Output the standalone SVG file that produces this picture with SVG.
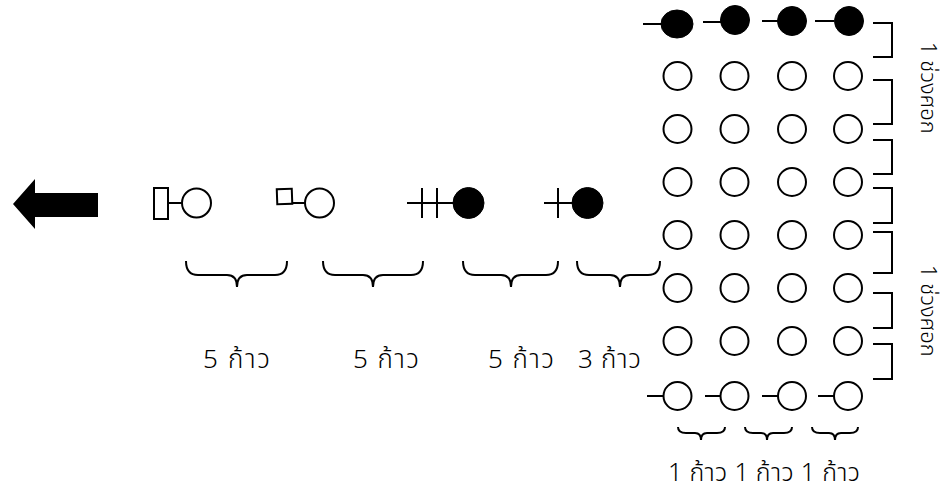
<svg xmlns="http://www.w3.org/2000/svg" width="947" height="494" viewBox="0 0 947 494">
<style>
.s{fill:none;stroke:#000;stroke-width:2}
.o{fill:#fff;stroke:#000;stroke-width:2}
.f{fill:#000;stroke:#000;stroke-width:1}
.t{font-family:"Noto Sans Thai","Noto Sans","DejaVu Sans",sans-serif;font-size:26px;font-weight:300;fill:#000}
.b{font-family:"Noto Sans Thai","Noto Sans","DejaVu Sans",sans-serif;font-size:25px;font-weight:300;fill:#000}
.v{font-family:"Noto Sans Thai","Noto Sans","DejaVu Sans",sans-serif;font-size:22px;font-weight:300;fill:#000}
</style>
<rect width="947" height="494" fill="#fff"/>
<g id="arrow"><polygon points="13,204 35,179 35,193 98,193 98,217 35,217 35,229" fill="#000"/></g>
<g id="p1"><rect x="154" y="188" width="14" height="31" class="o"/><line x1="168" y1="203" x2="182" y2="203" class="s"/><circle cx="196.5" cy="203" r="14.5" class="o"/></g>
<g id="p2"><rect x="277" y="189" width="15" height="15" class="o" transform="rotate(-2 284 196)"/><line x1="292" y1="203" x2="305" y2="203" class="s"/><circle cx="319.5" cy="203" r="14.5" class="o"/></g>
<g id="p3"><line x1="407" y1="203" x2="453" y2="203" class="s"/><line x1="422" y1="188" x2="422" y2="218" class="s"/><line x1="437" y1="188" x2="437" y2="218" class="s"/><circle cx="468.5" cy="203" r="15.5" class="f"/></g>
<g id="p4"><line x1="544" y1="203" x2="573" y2="203" class="s"/><line x1="558" y1="188" x2="558" y2="218" class="s"/><circle cx="587.5" cy="203" r="15.5" class="f"/></g>
<g id="braces">
<path class="s" d="M186,261 Q186,275 198,275 L227,275 Q237,275 237,287 Q237,275 247,275 L275,275 Q287,275 287,261"/>
<path class="s" d="M323,261 Q323,275 335,275 L363,275 Q373,275 373,287 Q373,275 383,275 L411,275 Q423,275 423,261"/>
<path class="s" d="M463,261 Q463,275 475,275 L501,275 Q511,275 511,287 Q511,275 521,275 L546,275 Q558,275 558,261"/>
<path class="s" d="M577,261 Q577,275 589,275 L610,275 Q620,275 620,287 Q620,275 630,275 L648,275 Q660,275 660,261"/>
<path class="s" d="M678,427 Q678,433 686,433 L695,433 Q701,433 701,440 Q701,433 707,433 L717,433 Q725,433 725,427"/>
<path class="s" d="M745,427 Q745,433 753,433 L761,433 Q767,433 767,440 Q767,433 773,433 L784,433 Q792,433 792,427"/>
<path class="s" d="M812,427 Q812,433 820,433 L829,433 Q835,433 835,440 Q835,433 841,433 L850,433 Q858,433 858,427"/>
</g>
<g id="grid">
<line x1="643" y1="24" x2="662" y2="24" class="s"/><ellipse cx="677" cy="24" rx="16" ry="14" class="f"/>
<line x1="703" y1="22" x2="721" y2="22" class="s"/><circle cx="735" cy="20" r="14.5" class="f"/>
<line x1="762" y1="21" x2="778" y2="21" class="s"/><circle cx="792" cy="21" r="14.5" class="f"/>
<line x1="815" y1="21" x2="834" y2="21" class="s"/><circle cx="849" cy="21" r="14.5" class="f"/>
<circle cx="677.5" cy="76" r="14" class="o"/><circle cx="734.5" cy="76" r="14" class="o"/><circle cx="792" cy="76" r="14" class="o"/><circle cx="848" cy="76" r="14" class="o"/>
<circle cx="677.5" cy="129" r="14" class="o"/><circle cx="734.5" cy="129" r="14" class="o"/><circle cx="792" cy="129" r="14" class="o"/><circle cx="848" cy="129" r="14" class="o"/>
<circle cx="677.5" cy="182" r="14" class="o"/><circle cx="734.5" cy="182" r="14" class="o"/><circle cx="792" cy="182" r="14" class="o"/><circle cx="848" cy="182" r="14" class="o"/>
<circle cx="677.5" cy="235" r="14" class="o"/><circle cx="734.5" cy="235" r="14" class="o"/><circle cx="792" cy="235" r="14" class="o"/><circle cx="848" cy="235" r="14" class="o"/>
<circle cx="677.5" cy="288" r="14" class="o"/><circle cx="734.5" cy="288" r="14" class="o"/><circle cx="792" cy="288" r="14" class="o"/><circle cx="848" cy="288" r="14" class="o"/>
<circle cx="677.5" cy="341" r="14" class="o"/><circle cx="734.5" cy="341" r="14" class="o"/><circle cx="792" cy="341" r="14" class="o"/><circle cx="848" cy="341" r="14" class="o"/>
<line x1="647" y1="396" x2="663" y2="396" class="s"/><circle cx="677.5" cy="396" r="14" class="o"/>
<line x1="705" y1="396" x2="720" y2="396" class="s"/><circle cx="734.5" cy="396" r="14" class="o"/>
<line x1="762" y1="396" x2="778" y2="396" class="s"/><circle cx="792" cy="396" r="14" class="o"/>
<line x1="818" y1="396" x2="834" y2="396" class="s"/><circle cx="848" cy="396" r="14" class="o"/>
</g>
<g id="brackets">
<polyline class="s" points="873,23 892,23 892,57 873,57"/>
<polyline class="s" points="873,80 892,80 892,124 873,124"/>
<polyline class="s" points="873,140 892,140 892,174 873,174"/>
<polyline class="s" points="873,188 892,188 892,223 873,223"/>
<polyline class="s" points="873,232 892,232 892,273 873,273"/>
<polyline class="s" points="873,293 892,293 892,328 873,328"/>
<polyline class="s" points="873,344 892,344 892,379 873,379"/>
</g>
<g id="labels">
<text class="t" x="203" y="368" textLength="67" lengthAdjust="spacing">5 ก้าว</text>
<text class="t" x="353" y="368" textLength="66" lengthAdjust="spacing">5 ก้าว</text>
<text class="t" x="488" y="368" textLength="66" lengthAdjust="spacing">5 ก้าว</text>
<text class="t" x="578" y="368" textLength="63" lengthAdjust="spacing">3 ก้าว</text>
<text class="b" x="668" y="481" textLength="192" lengthAdjust="spacing">1 ก้าว 1 ก้าว 1 ก้าว</text>
<text class="v" transform="translate(921,42) rotate(90)">1 ช่วงศอก</text>
<text class="v" transform="translate(921,265) rotate(90)">1 ช่วงศอก</text>
</g>
</svg>
